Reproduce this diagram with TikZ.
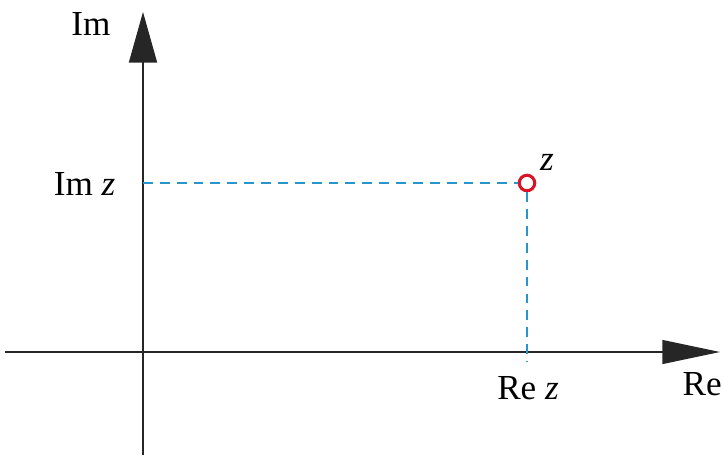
\documentclass[tikz,border=0pt]{standalone}
\usepackage{fontspec}
\setmainfont{Liberation Serif}
\usepackage{xcolor}
\usetikzlibrary{arrows.meta}
\definecolor{dashcyan}{RGB}{40,150,205}
\definecolor{ptred}{RGB}{215,20,40}
\tikzset{axis/.style={draw=black!85,line width=1pt},
  proj/.style={draw=dashcyan,line width=0.9pt,dash pattern=on 7pt off 5pt},
  lbl/.style={font=\fontsize{25}{28}\selectfont,inner sep=1pt}
}
\begin{document}
\begin{tikzpicture}
  \useasboundingbox (-3.575,-2.625) rectangle (14.5,8.8);
  \coordinate (O) at (0,0);
  \coordinate (XL) at (-3.45,0);
  \coordinate (XR) at (14.425,0);
  \coordinate (YB) at (0,-2.575);
  \coordinate (YT) at (0,8.5);
  \coordinate (ImZ) at (0,4.225);
  \coordinate (ReZ) at (9.6,-0.25);
  % axes
  \path [-{Triangle[length=41pt,width=17pt]}] (XL) edge[axis] (XR);
  \path [-{Triangle[length=36pt,width=20pt]}] (YB) edge[axis] (YT);
  % the point z
  \node (Z) at (9.6,4.225) [circle,draw=ptred,line width=2.2pt,inner sep=0,minimum size=11pt] {};
  \path [-] (ImZ) edge[proj] (Z.west);
  \path [-] (Z.south) edge[proj] (ReZ);
  \begin{scope}[every node/.style={lbl}]
    \node (Im) at (-1.3,8.2) {Im};
    \node (Re) [anchor=west] at (13.45,-0.8) {Re};
    \node (ImLbl) [anchor=east] at (-0.65,4.2) {Im \textit{z}};
    \node (ReLbl) at (9.625,-0.9) {Re \textit{z}};
    \node (ZLbl) at (10.1,4.75) {\textit{z}};
  \end{scope}
\end{tikzpicture}
\end{document}
